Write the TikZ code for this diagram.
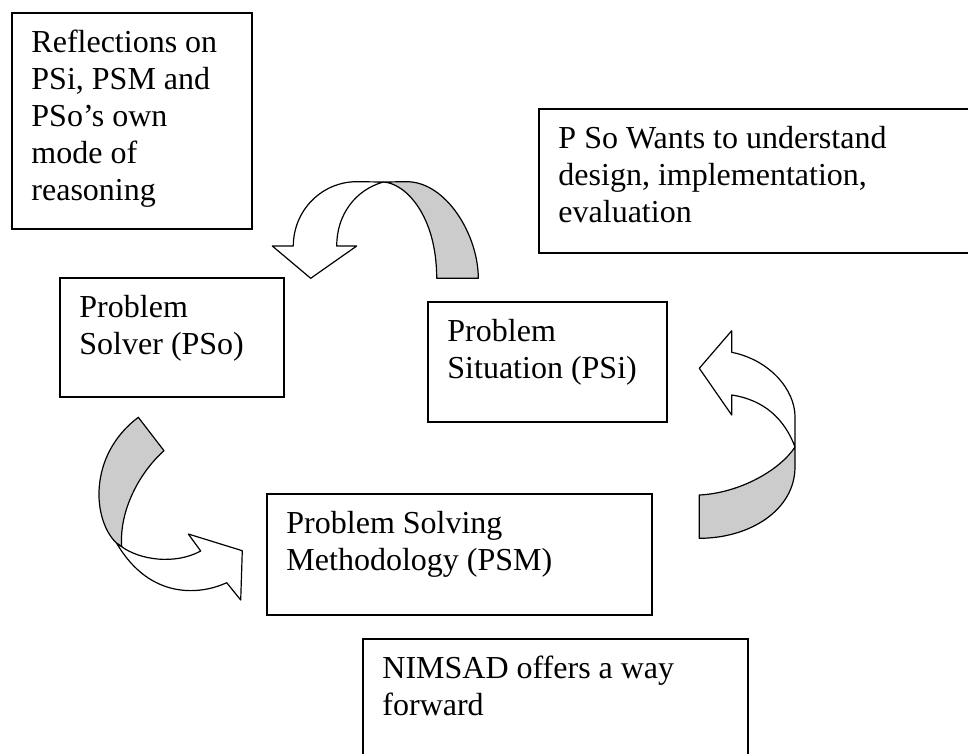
\documentclass[tikz,border=0pt]{standalone}
\usepackage{fontspec}
\setmainfont{Liberation Serif}
\definecolor{bandgray}{RGB}{204,204,204}
\begin{document}
\begin{tikzpicture}[x=1pt,y=-1pt,
  boxnode/.style={draw, line width=1.5pt, inner sep=0pt, fill=none},
  txt/.style={anchor=north west, inner sep=0pt, align=left, font=\fontsize{32}{37}\selectfont},
  band/.style={draw, line width=1.2pt, line join=round}]
\useasboundingbox (0,0) rectangle (968,753);
\fill[white] (0,0) rectangle (968,753);
\clip (0,0) rectangle (968,753);

% boxes
\node[boxnode, minimum width=240pt, minimum height=216pt] (refl) at (132,121) {};
\node[boxnode, minimum width=224pt, minimum height=119pt] (pso) at (172,337.5) {};
\node[boxnode, minimum width=239pt, minimum height=120pt] (psi) at (547.5,362) {};
\node[boxnode, minimum width=451pt, minimum height=144pt] (want) at (764.5,181) {};
\node[boxnode, minimum width=385pt, minimum height=121pt] (psm) at (459.5,554.5) {};
\node[boxnode, minimum width=385pt, minimum height=141pt] (nim) at (555.5,709.5) {};

% texts
\node[txt] (refltxt) at ([xshift=20pt]refl.north west) {\rule{0pt}{40pt}Reflections on\\PSi, PSM and\\PSo’s own\\mode of\\reasoning};
\node[txt] (psotxt) at ([xshift=20pt]pso.north west) {\rule{0pt}{40pt}Problem\\Solver (PSo)};
\node[txt] (psitxt) at ([xshift=20pt]psi.north west) {\rule{0pt}{40pt}Problem\\Situation (PSi)};
\node[txt] (wanttxt) at ([xshift=20pt]want.north west) {\rule{0pt}{40pt}P So Wants to understand\\design, implementation,\\evaluation};
\node[txt] (psmtxt) at ([xshift=20pt]psm.north west) {\rule{0pt}{40pt}Problem Solving\\Methodology (PSM)};
\node[txt] (nimtxt) at ([xshift=20pt]nim.north west) {\rule{0pt}{40pt}NIMSAD offers a way\\forward};

% curved arrow 1 (PSi -> PSo, top)
\filldraw[band, fill=bandgray] (383.3,182) -- (406.7,181.7)
  .. controls (446.2,181.7) and (478.3,235) .. (478.3,278.3)
  -- (436.7,278.3)
  .. controls (436.7,215) and (405,183) .. (383.3,182) -- cycle;
\filldraw[band, fill=white] (293.3,246)
  .. controls (293.3,210.5) and (321.7,181.7) .. (356.7,181.7)
  -- (383.3,182)
  .. controls (355,190) and (336.7,215) .. (336.7,246)
  -- (356.7,246) -- (310.7,278.3) -- (272.3,246) -- cycle;

% curved arrow 2 (PSo -> PSM, left)
\filldraw[band, fill=bandgray] (138.3,417.3) -- (164,450.7)
  .. controls (140,472) and (119,510) .. (121.7,546.7)
  -- (116.7,543.3)
  .. controls (92,520) and (88,455) .. (138.3,417.3) -- cycle;
\filldraw[band, fill=white] (121.7,546.7)
  .. controls (140,560) and (175,565) .. (200.7,551)
  -- (188.3,534) -- (242.3,550.7) -- (240.7,600) -- (226.7,582.7)
  .. controls (200,595) and (150,600) .. (116.7,543.3) -- cycle;

% curved arrow 3 (PSM -> PSi, right)
\filldraw[band, fill=bandgray] (699.3,495)
  .. controls (740,493) and (780,470) .. (795,447)
  -- (795,466.7)
  .. controls (795,510) and (750,538.3) .. (699.3,538.3) -- cycle;
\filldraw[band, fill=white] (795,447)
  .. controls (785,420) and (765,400) .. (731.7,395)
  -- (731.7,415) -- (699.3,368.3) -- (731.7,330.7) -- (731.7,352.3)
  .. controls (770,360) and (795,390) .. (795,416.7) -- cycle;
\end{tikzpicture}
\end{document}
